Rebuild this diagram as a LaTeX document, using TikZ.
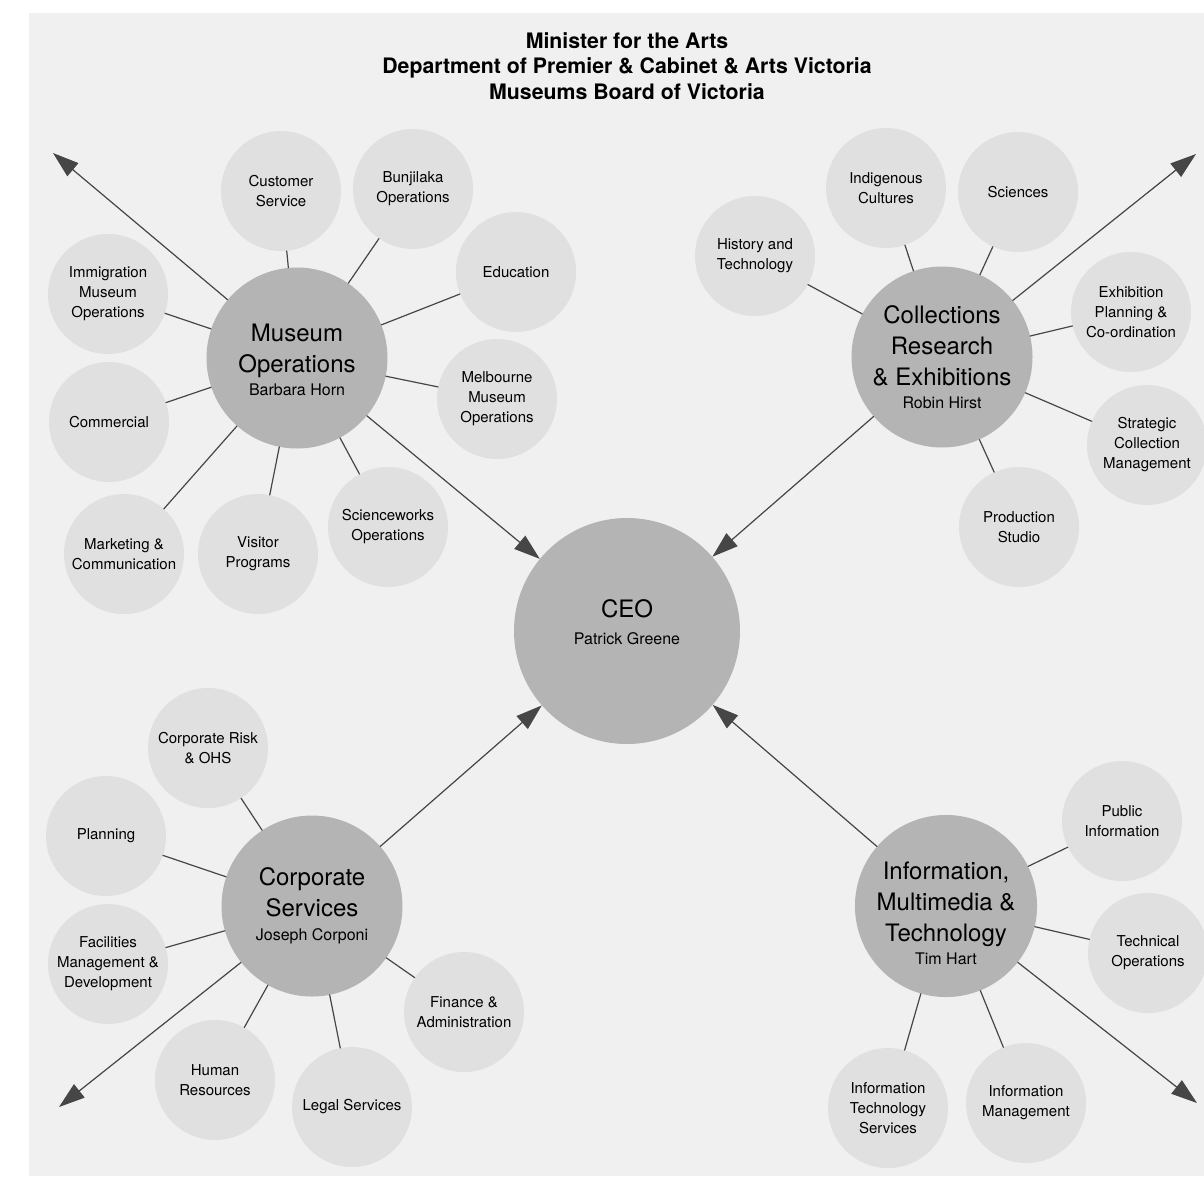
\documentclass[tikz,border=0pt]{standalone}
\usepackage{fontspec}
\setmainfont{TeX Gyre Heros}
\usepackage{tikz}
\usetikzlibrary{arrows.meta}
\definecolor{bggray}{HTML}{F0F0F0}
\definecolor{unitgray}{HTML}{E0E0E0}
\definecolor{headgray}{HTML}{B4B4B4}
\definecolor{linegray}{HTML}{464646}
\newcommand{\headname}[1]{{\fontsize{16}{20}\selectfont #1}}

\begin{document}
\begin{tikzpicture}[line cap=round,line join=round,>={Triangle[length=26pt,width=17pt]},x=1pt,y=-1pt,
    unit/.style={circle,fill=unitgray,minimum size=120pt,inner sep=0pt,align=center,
      font=\fontsize{15}{20}\selectfont},
    head/.style={circle,fill=headgray,minimum size=181pt,inner sep=0pt,align=center,
      font=\fontsize{24}{31}\selectfont},
    link/.style={draw=linegray,line width=1.2pt}]
      \useasboundingbox (0,0) rectangle (1204,1176);
      \fill[white] (0,0) rectangle (1204,1176);
      \fill[bggray] (29,13) rectangle (1204,1176);
      \node[align=center,font=\bfseries\fontsize{21.3}{25.5}\selectfont] (title) at (627,66)
        {Minister for the Arts\\Department of Premier \& Cabinet \& Arts Victoria\\Museums Board of Victoria};

      % the five heads (struts nudge the text inside the circle)
      \node[head,minimum size=226pt] (ceo) at (627,631) {CEO\\[-4pt]\headname{Patrick Greene}\rule[-18pt]{0pt}{1pt}};
      \node[head] (museum) at (297,358) {\rule{0pt}{22pt}Museum\\Operations\\[-8pt]\headname{Barbara Horn}};
      \node[head] (collect) at (942,357) {Collections\\Research\\\& Exhibitions\\[-8pt]\headname{Robin Hirst}};
      \node[head] (corp) at (312,906) {Corporate\\Services\\[-7pt]\headname{Joseph Corponi}};
      \node[head] (info) at (946,906) {\rule{0pt}{33pt}Information,\\Multimedia \&\\Technology\\[-8pt]\headname{Tim Hart}};

      % museum operations units
      \node[unit] (cust) at (281,191) {Customer\\Service};
      \node[unit] (bunj) at (413,189) {Bunjilaka\\Operations};
      \node[unit] (educ) at (516,272) {Education};
      \node[unit] (melb) at (497,399) {Melbourne\\Museum\\Operations};
      \node[unit] (sciw) at (388,527) {Scienceworks\\Operations};
      \node[unit] (visit) at (258,554) {Visitor\\Programs};
      \node[unit] (market) at (124,554) {Marketing \&\\Communication};
      \node[unit] (comm) at (109,422) {Commercial};
      \node[unit] (immig) at (108,294) {Immigration\\Museum\\Operations};
      \foreach \u in {cust,bunj,educ,melb,sciw,visit,market,comm,immig}
        \draw[link] (\u) -- (museum);

      % collections units
      \node[unit] (hist) at (755,256) {History and\\Technology};
      \node[unit] (indig) at (886,188) {Indigenous\\Cultures};
      \node[unit] (sci) at (1018,192) {Sciences};
      \node[unit] (exhib) at (1131,312) {Exhibition\\Planning \&\\Co-ordination};
      \node[unit] (strat) at (1147,445) {Strategic\\Collection\\Management};
      \node[unit] (prod) at (1019,527) {Production\\Studio};
      \foreach \u in {hist,indig,sci,exhib,strat,prod}
        \draw[link] (\u) -- (collect);

      % corporate units
      \node[unit] (risk) at (208,748) {Corporate Risk\\\& OHS};
      \node[unit] (plan) at (106,836) {Planning};
      \node[unit] (facil) at (108,964) {Facilities\\Management \&\\Development};
      \node[unit] (human) at (215,1080) {Human\\Resources};
      \node[unit] (legal) at (352,1107) {Legal Services};
      \node[unit] (fin) at (464,1012) {Finance \&\\Administration};
      \foreach \u in {risk,plan,facil,human,legal,fin}
        \draw[link] (\u) -- (corp);

      % information units
      \node[unit] (pub) at (1122,821) {Public\\Information};
      \node[unit] (tech) at (1148,953) {Technical\\Operations};
      \node[unit] (its) at (888,1108) {Information\\Technology\\Services};
      \node[unit] (imgt) at (1026,1103) {Information\\Management};
      \foreach \u in {pub,tech,its,imgt}
        \draw[link] (\u) -- (info);

      % reporting lines
      \foreach \h in {museum,collect,corp,info}
        \draw[link,->,fill=linegray] (\h) -- (ceo);

      % open ends
      \coordinate (museum out) at (53,153);
      \coordinate (collect out) at (1196,154);
      \coordinate (corp out) at (59,1107);
      \coordinate (info out) at (1197,1103);
      \foreach \h in {museum,collect,corp,info}
        \draw[link,->,fill=linegray] (\h) -- (\h\space out);
    \end{tikzpicture}
\end{document}
